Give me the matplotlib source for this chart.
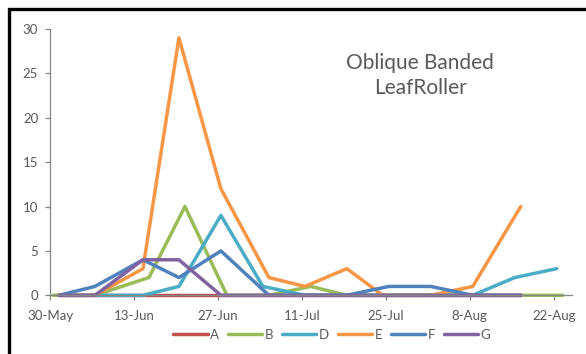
import matplotlib
matplotlib.use("Agg")
import matplotlib.pyplot as plt
from matplotlib.patches import Rectangle
from matplotlib.ticker import FuncFormatter
import matplotlib.dates as mdates
import pandas as pd

plt.rcParams['font.family'] = ['Lato', 'DejaVu Sans']

# sampling dates (each site was checked on its own days) and counts
dates_A = ["31-May", "6-Jun", "14-Jun", "20-Jun", "27-Jun", "5-Jul", "11-Jul",
           "18-Jul", "25-Jul", "1-Aug", "8-Aug", "16-Aug"]
vals_A = [0, 0, 0, 0, 0, 0, 0, 0, 0, 0, 0, 0]

dates_B = ["30-May", "6-Jun", "15-Jun", "21-Jun", "28-Jun", "5-Jul", "12-Jul",
           "18-Jul", "25-Jul", "1-Aug", "8-Aug", "16-Aug", "23-Aug"]
vals_B = [0, 0, 2, 10, 0, 0, 1, 0, 0, 0, 0, 0, 0]

dates_D = ["31-May", "6-Jun", "14-Jun", "20-Jun", "27-Jun", "4-Jul", "11-Jul",
           "18-Jul", "25-Jul", "1-Aug", "8-Aug", "15-Aug", "22-Aug"]
vals_D = [0, 0, 0, 1, 9, 1, 0, 0, 0, 0, 0, 2, 3]

dates_E = ["31-May", "6-Jun", "14-Jun", "20-Jun", "27-Jun", "5-Jul", "11-Jul",
           "18-Jul", "24-Jul", "1-Aug", "8-Aug", "16-Aug"]
vals_E = [0, 0, 3, 29, 12, 2, 1, 3, 0, 0, 1, 10]

dates_F = ["31-May", "6-Jun", "14-Jun", "20-Jun", "27-Jun", "5-Jul", "11-Jul",
           "18-Jul", "25-Jul", "1-Aug", "8-Aug", "16-Aug"]
vals_F = [0, 1, 4, 2, 5, 0, 0, 0, 1, 1, 0, 0]

dates_G = ["31-May", "6-Jun", "14-Jun", "20-Jun", "27-Jun", "5-Jul", "11-Jul",
           "18-Jul", "25-Jul", "1-Aug", "8-Aug", "16-Aug"]
vals_G = [0, 0, 4, 4, 0, 0, 0, 0, 0, 0, 0, 0]

series = [
    ("A", dates_A, vals_A, "#C0504D"),
    ("B", dates_B, vals_B, "#9BBB59"),
    ("D", dates_D, vals_D, "#4BACC6"),
    ("E", dates_E, vals_E, "#F79646"),
    ("F", dates_F, vals_F, "#4F81BD"),
    ("G", dates_G, vals_G, "#8064A2"),
]

YEAR = "2014"
def to_dt(lst):
    # excel date axis puts each point in the middle of its day
    return pd.to_datetime([d + "-" + YEAR for d in lst], format="%d-%b-%Y") + pd.Timedelta(hours=12)

grey = "#595959"
axis_col = "#868686"

fig = plt.figure(figsize=(5.86, 3.54), dpi=100)
ax = fig.add_axes([50 / 586, 1 - 295.3 / 354, (571.7 - 50) / 586, (295.3 - 29) / 354])

for name, d, v, c in series:
    ax.plot(to_dt(d), v, color=c, lw=2.5, label=name, solid_capstyle="round",
            solid_joinstyle="round", clip_on=False)

start = pd.Timestamp("30-May-" + YEAR)
ax.set_xlim(start, start + pd.Timedelta(days=87))
ax.set_ylim(0, 30)
ax.set_yticks(range(0, 31, 5))
ax.set_xticks(pd.date_range(start, periods=7, freq="14D"))
ax.xaxis.set_major_formatter(FuncFormatter(
    lambda x, p: "%d-%s" % (mdates.num2date(x).day, mdates.num2date(x).strftime("%b"))))

for s in ["top", "right"]:
    ax.spines[s].set_visible(False)
for s in ["left", "bottom"]:
    ax.spines[s].set_color(axis_col)
    ax.spines[s].set_linewidth(0.9)
ax.tick_params(colors=axis_col, labelcolor=grey, labelsize=9.5, length=3.5, width=0.9)
ax.tick_params(axis="x", pad=7)
ax.tick_params(axis="y", pad=5)

fig.text(420 / 586, 1 - 75.5 / 354, "Oblique Banded\nLeafRoller", ha="center", va="center",
         fontsize=15, color=grey, linespacing=1.3)

leg = fig.legend(loc="center", bbox_to_anchor=(332 / 586, 1 - 335 / 354), ncol=6,
                 frameon=False, fontsize=9.5, handlelength=2.6, handletextpad=0.2,
                 columnspacing=0.65, labelcolor=grey)

# black frame, cut off at the right and bottom of the picture
fig.patches.append(Rectangle((9 / 586, -0.1), 1.2, 1 - 9 / 354 + 0.1, transform=fig.transFigure,
                             fill=False, edgecolor="black", lw=2.4))

fig.savefig("out.png", dpi=100)
